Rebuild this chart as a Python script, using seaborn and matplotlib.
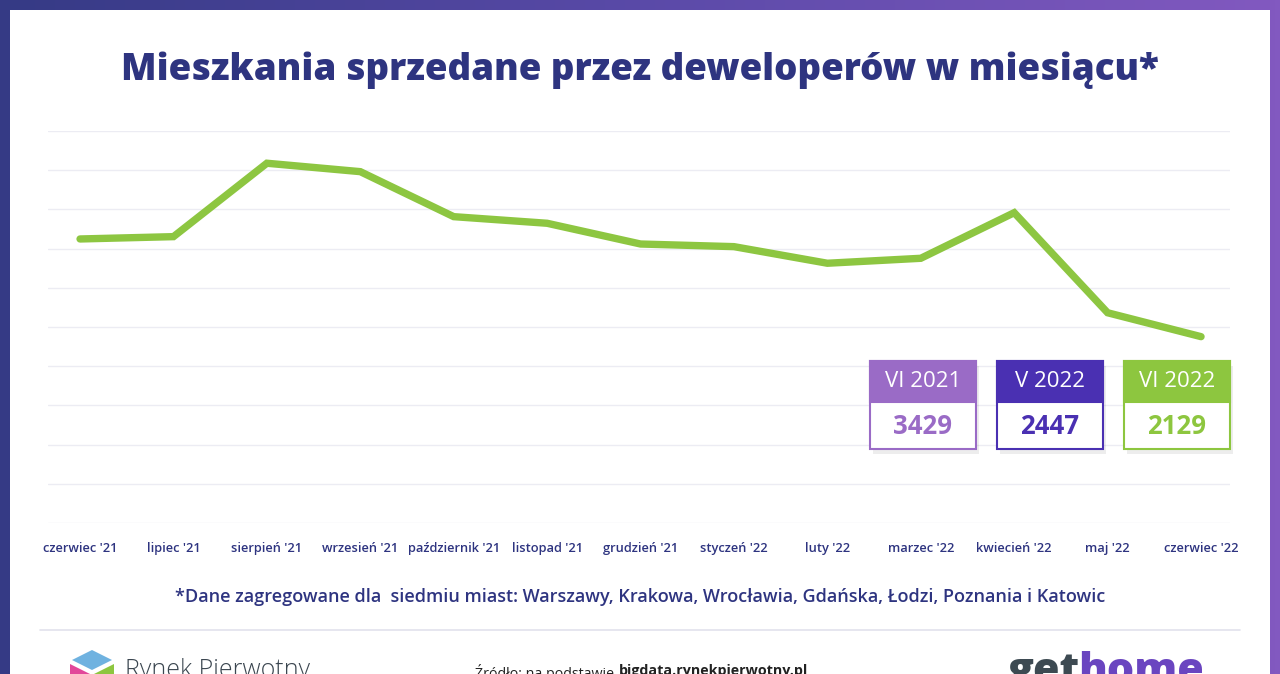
import numpy as np
import pandas as pd
import seaborn as sns
import matplotlib.pyplot as plt
from matplotlib.patches import Rectangle, Polygon
from matplotlib.lines import Line2D
from matplotlib.colors import LinearSegmentedColormap

# dane
months = ["czerwiec '21", "lipiec '21", "sierpień '21", "wrzesień '21", "październik '21",
          "listopad '21", "grudzień '21", "styczeń '22", "luty '22", "marzec '22",
          "kwiecień '22", "maj '22", "czerwiec '22"]
sales = [3429, 3460, 4437, 4325, 3726, 3638, 3362, 3327, 3106, 3172, 3779, 2447, 2129]

box_labels = ["VI 2021", "V 2022", "VI 2022"]
box_index = [0, 11, 12]
box_colors = ["#9a6bc6", "#4a30b2", "#8dc63f"]

NAVY = "#2e3480"
GREEN = "#8dc641"
W, H = 1280, 674

def fx(x):
    return x / W

def fy(y):
    return 1 - y / H

sns.set_theme(style="white")
plt.rcParams['font.family'] = ['Open Sans', 'DejaVu Sans']

fig = plt.figure(figsize=(12.8, 6.74), dpi=100)

# ramka z gradientem
bg = fig.add_axes([0, 0, 1, 1])
bg.set_axis_off()
grad = np.linspace(0, 1, 256).reshape(1, -1)
cmap = LinearSegmentedColormap.from_list("frame", ["#353a85", "#5a4aa8", "#8259c0"])
bg.imshow(grad, aspect="auto", cmap=cmap, extent=[0, 1, 0, 1])
bg.add_patch(Rectangle((fx(10), 0), fx(1260), fy(10), transform=bg.transAxes,
                       facecolor="white", edgecolor="none"))
bg.set_xlim(0, 1)
bg.set_ylim(0, 1)

# wykres
ax = fig.add_axes([fx(48), fy(523), fx(1230) - fx(48), fy(131) - fy(523)])
df = pd.DataFrame({"pos": np.arange(len(months)), "sales": sales})
sns.lineplot(data=df, x="pos", y="sales", ax=ax, color=GREEN, linewidth=5.3,
             solid_capstyle="round", solid_joinstyle="miter")

ymin, ymax = -351, 4866
ax.set_ylim(ymin, ymax)
ax.set_xlim(-0.343, 12.31)
ax.set_yticks(np.linspace(ymin, ymax, 11))
ax.set_yticklabels([])
ax.grid(axis="y", color="#ececf3", linewidth=1)
ax.set_axisbelow(True)
for s in ax.spines.values():
    s.set_visible(False)
ax.set_xticks(df["pos"])
ax.set_xticklabels(months, fontsize=9.3, color=NAVY, fontweight="semibold")
ax.tick_params(axis="x", length=0, pad=14)
ax.tick_params(axis="y", length=0)
ax.set_xlabel("")
ax.set_ylabel("")
ax.patch.set_alpha(0)

# tytuł
fig.text(0.5, fy(70), "Mieszkania sprzedane przez deweloperów w miesiącu*",
         ha="center", va="center", fontsize=26.5, fontweight="heavy", color=NAVY)

# przypis
fig.text(0.5, fy(597), "*Dane zagregowane dla  siedmiu miast: Warszawy, Krakowa, Wrocławia, Gdańska, Łodzi, Poznania i Katowic",
         ha="center", va="center", fontsize=13, fontweight="semibold", color=NAVY)

# boksy z wartościami
box_x = [870, 997, 1124]
for lab, idx, col, x0 in zip(box_labels, box_index, box_colors, box_x):
    bw, top, mid, bot = 106, 361, 402, 449
    fig.patches.append(Rectangle((fx(x0 + 3), fy(bot + 5)), fx(bw), fy(top + 5) - fy(bot + 5),
                                 transform=fig.transFigure, facecolor="#000000", alpha=0.07,
                                 edgecolor="none", zorder=4))
    fig.patches.append(Rectangle((fx(x0), fy(bot)), fx(bw), fy(top) - fy(bot),
                                 transform=fig.transFigure, facecolor="white",
                                 edgecolor=col, linewidth=1.5, zorder=5))
    fig.patches.append(Rectangle((fx(x0), fy(mid)), fx(bw), fy(top) - fy(mid),
                                 transform=fig.transFigure, facecolor=col,
                                 edgecolor=col, linewidth=1.5, zorder=6))
    fig.text(fx(x0 + bw / 2), fy((top + mid) / 2), lab, ha="center", va="center",
             fontsize=16, color="white", zorder=7)
    fig.text(fx(x0 + bw / 2), fy((mid + bot) / 2 + 1), str(sales[idx]), ha="center", va="center",
             fontsize=18.5, fontweight="bold", color=col, zorder=7)

# stopka
fig.add_artist(Line2D([fx(40), fx(1240)], [fy(630), fy(630)], color="#e2e2ec", linewidth=1.2))
fig.patches.append(Polygon([(fx(92), fy(650)), (fx(112), fy(660)), (fx(92), fy(670)), (fx(72), fy(660))],
                           closed=True, transform=fig.transFigure, facecolor="#6fb2e0", edgecolor="none"))
fig.patches.append(Polygon([(fx(70), fy(664)), (fx(90), fy(674)), (fx(70), fy(684))],
                           closed=True, transform=fig.transFigure, facecolor="#e2479a", edgecolor="none"))
fig.patches.append(Polygon([(fx(114), fy(664)), (fx(94), fy(674)), (fx(114), fy(684))],
                           closed=True, transform=fig.transFigure, facecolor="#8dc63f", edgecolor="none"))
fig.text(fx(125), fy(658), "Rynek Pierwotny", ha="left", va="top", fontsize=18,
         fontweight="light", color="#3b4650")
fig.text(fx(614), fy(664), "Źródło: na podstawie", ha="right", va="top", fontsize=10.3, color="#222222")
fig.text(fx(619), fy(664), "bigdata.rynekpierwotny.pl", ha="left", va="top", fontsize=10.3,
         fontweight="bold", color="#222222")
fig.text(fx(1008), fy(651), "get", ha="left", va="top", fontsize=31, fontweight="heavy", color="#3d4a52")
fig.text(fx(1078), fy(651), "home", ha="left", va="top", fontsize=31, fontweight="heavy", color="#6a45c0")

fig.savefig("out.png", dpi=100)
